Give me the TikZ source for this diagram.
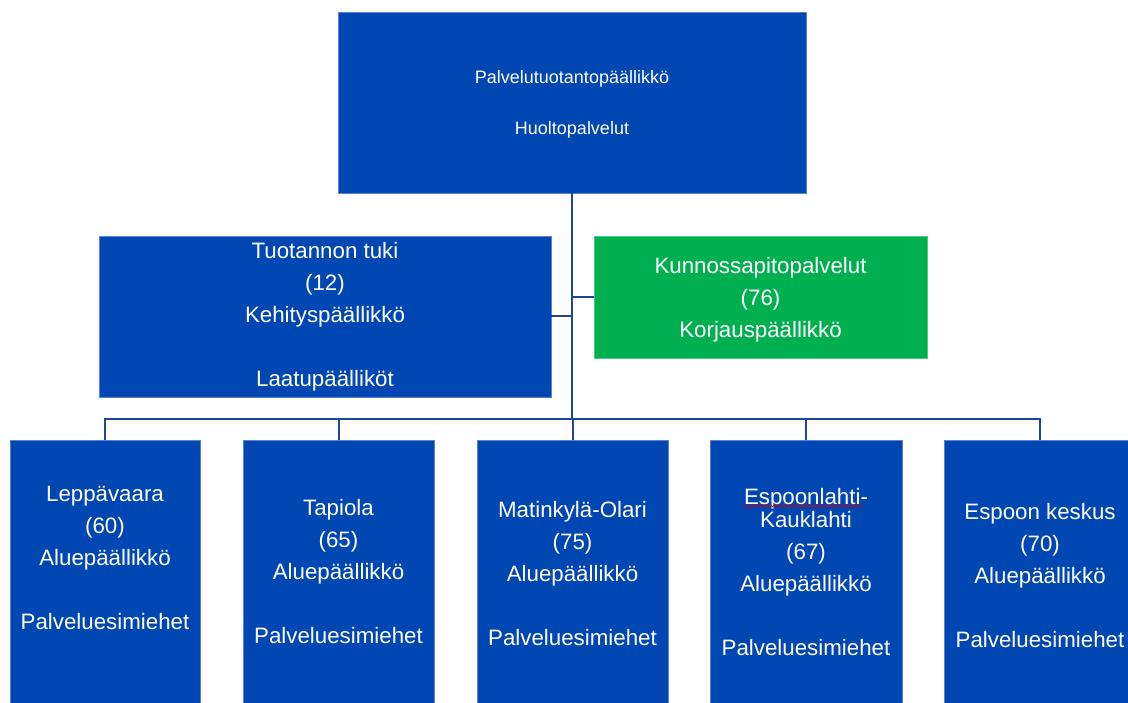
\documentclass[tikz,border=0pt]{standalone}
\usepackage{fontspec}
\setmainfont{Liberation Sans}
\usetikzlibrary{decorations.pathmorphing}
\definecolor{orgblue}{HTML}{0047B3}
\definecolor{orgedge}{HTML}{5B82CF}
\definecolor{orggreen}{HTML}{00B050}
\definecolor{orgline}{HTML}{1C4896}
\begin{document}
\begin{tikzpicture}[x=1pt,y=-1pt,
  box/.style={rectangle, fill=orgblue, draw=orgedge, line width=0.7pt, inner sep=0pt},
  greenbox/.style={box, fill=orggreen, draw=orggreen!70!white},
  txt/.style={text=white, align=center, inner sep=0pt,
    font=\fontsize{22.3}{32}\selectfont},
  toptxt/.style={txt, font=\fontsize{18}{25.5}\selectfont},
  link/.style={draw=orgline, line width=2pt}]
\useasboundingbox (0,0) rectangle (1128,703);
\clip (0,0) rectangle (1128,703);

% management boxes
\node[box, minimum width=468, minimum height=181] (top) at (572,102.5) {};
\node[box, minimum width=452, minimum height=161] (tuki) at (325,316.5) {};
\node[greenbox, minimum width=333, minimum height=122] (kunn) at (760.5,297) {};

% area boxes
\node[box, minimum width=190, minimum height=263] (b1) at (105,571.5) {};
\node[box, minimum width=191, minimum height=263] (b2) at (338.5,571.5) {};
\node[box, minimum width=191, minimum height=263] (b3) at (572.5,571.5) {};
\node[box, minimum width=192, minimum height=263] (b4) at (806,571.5) {};
\node[box, minimum width=192, minimum height=263] (b5) at (1040,571.5) {};

% connectors
\coordinate (hub) at (572,419);
\draw[link] (top.south) -- (hub);
\draw[link] (tuki.east) -- (tuki.east -| hub);
\draw[link] (kunn.west) -- (kunn.west -| hub);
\foreach \b in {b1,b2,b3,b4,b5}
  \draw[link] (\b.north) |- (hub);

% texts
\node[toptxt] (toptext) at (572,104.5)
  {Palvelutuotantopäällikkö\\[25.5pt]Huoltopalvelut};
\node[txt] (tukitext) at (325,317)
  {Tuotannon tuki\\(12)\\Kehityspäällikkö\\[32pt]Laatupäälliköt};
\node[txt] (kunntext) at (760.5,300)
  {Kunnossapitopalvelut\\(76)\\Korjauspäällikkö};
\node[txt] (t1) at (105,557.5)
  {Leppävaara\\(60)\\Aluepäällikkö\\[32pt]Palveluesimiehet};
\node[txt] (t2) at (338.5,572)
  {Tapiola\\(65)\\Aluepäällikkö\\[32pt]Palveluesimiehet};
\node[txt] (t3) at (572.5,574)
  {Matinkylä-Olari\\(75)\\Aluepäällikkö\\[32pt]Palveluesimiehet};
\node[txt] (t4) at (806,572.5)
  {Espoonlahti-\\[-9pt]Kauklahti\\(67)\\Aluepäällikkö\\[32pt]Palveluesimiehet};
\node[txt] (t5) at (1040,576)
  {Espoon keskus\\(70)\\Aluepäällikkö\\[32pt]Palveluesimiehet};

% spell-check underline beneath the first word
\coordinate (sqa) at (743,506);
\coordinate (sqb) at (863,506);
\draw[red!85!black, line width=0.6pt,
  decorate, decoration={snake, amplitude=0.9pt, segment length=3pt}] (sqa) -- (sqb);
\end{tikzpicture}
\end{document}
